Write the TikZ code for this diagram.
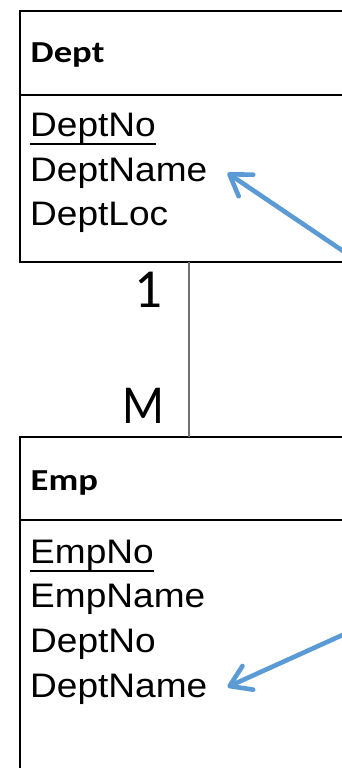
\documentclass[tikz,border=0pt]{standalone}
\usepackage{fontspec}
\setmainfont{Liberation Sans}
\newfontfamily\carlito{Carlito}
\usetikzlibrary{arrows.meta}
\definecolor{linkblue}{HTML}{5B9BD5}
\definecolor{relgray}{HTML}{707070}
\tikzset{
  table/.style={draw=black, line width=2.8pt},
  title/.style={anchor=base west, inner sep=0pt, xscale=1.2,
    font=\carlito\bfseries\fontsize{30.5}{34}\selectfont},
  attr/.style={anchor=base west, inner sep=0pt, xscale=1.09,
    font=\fontsize{34}{40}\selectfont},
  card/.style={anchor=base east, inner sep=0pt,
    font=\carlito\fontsize{55}{60}\selectfont},
  rel/.style={draw=relgray, line width=1.3pt},
  link/.style={draw=linkblue, line width=4.6pt, line cap=round,
    -{Straight Barb[length=20pt, width=26pt, round]}},
  pk/.style={draw=black, line width=1.8pt}
}
\begin{document}
\begin{tikzpicture}[x=1pt, y=-1pt]
\useasboundingbox (0,0) rectangle (342,768);
\clip (0,0) rectangle (342,768);
\fill[white] (0,0) rectangle (342,768);

% Dept table
\draw[table] (20,11) rectangle (400,262);
\draw[table] (20,95) -- (400,95);
\node[title] (dept) at (30.5,62.3) {Dept};
\node[attr] (dno) at (30,136.7) {DeptNo};
\draw[pk] (dno.base west) ++(0,7.6) coordinate (u1) -- (u1 -| dno.east);
\node[attr] (dname) at (30,181.3) {DeptName};
\node[attr] (dloc) at (30,225.5) {DeptLoc};

% Emp table
\draw[table] (20,437) rectangle (400,800);
\draw[table] (20,520) -- (400,520);
\node[title] (emp) at (30.5,490) {Emp};
\node[attr] (eno) at (30,563) {EmpNo};
\draw[pk] (eno.base west) ++(0,7.6) coordinate (u2) -- (u2 -| eno.east);
\node[attr] (ename) at (30,607.5) {EmpName};
\node[attr] (edno) at (30,652) {DeptNo};
\node[attr] (edname) at (30,697) {DeptName};

% one-to-many relationship
\coordinate (r1) at (189,262);
\coordinate (r2) at (189,437);
\draw[rel] (r1) -- (r2);
\node[card] (one) at (163,307) {1};
\node[card, xscale=0.89] (many) at (165,423) {M};

% reference arrows
\coordinate (s1) at (400,289.5);
\coordinate (t1) at (227.5,173);
\draw[link] (s1) -- (t1);
\coordinate (s2) at (400,609);
\coordinate (t2) at (227.5,687);
\draw[link] (s2) -- (t2);
\end{tikzpicture}
\end{document}
